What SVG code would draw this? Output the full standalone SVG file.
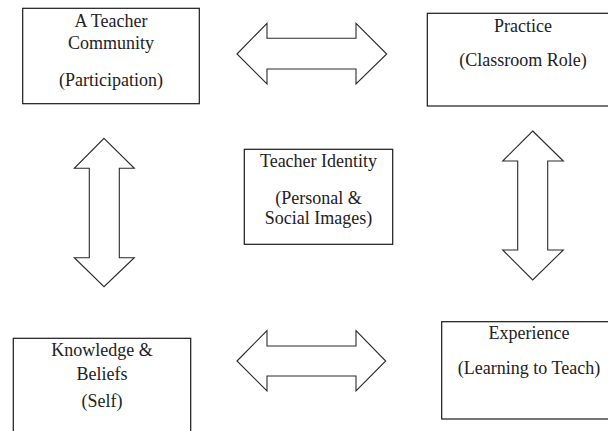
<svg xmlns="http://www.w3.org/2000/svg" width="608" height="431" viewBox="0 0 608 431">
<style>
.box{fill:#fff;stroke:#1a1a1a;stroke-width:1.2}
.arr{fill:#fff;stroke:#2a2a2a;stroke-width:1.1;stroke-linejoin:miter}
text{font-family:"Liberation Serif","Times New Roman",serif;fill:#222;text-anchor:middle;font-size:18px}
</style>
<rect width="608" height="431" fill="#fff"/>
<g id="community">
<rect class="box" x="22.7" y="8.3" width="176.6" height="95.4"/>
<text x="111" y="27.3">A Teacher</text>
<text x="111" y="49.3">Community</text>
<text x="111" y="86">(Participation)</text>
</g>
<g id="practice">
<rect class="box" x="427.3" y="13.3" width="190" height="92.7"/>
<text x="523" y="31.7">Practice</text>
<text x="523" y="65.7">(Classroom Role)</text>
</g>
<g id="identity">
<rect class="box" x="244.3" y="149.3" width="148.4" height="95"/>
<text x="318.5" y="167.3" font-size="17.5">Teacher Identity</text>
<text x="318.5" y="204" font-size="17.5">(Personal &amp;</text>
<text x="318.5" y="224.3" font-size="17.5">Social Images)</text>
</g>
<g id="knowledge">
<rect class="box" x="13.3" y="338.3" width="177.4" height="100"/>
<text x="102" y="356">Knowledge &amp;</text>
<text x="102" y="380">Beliefs</text>
<text x="102" y="407.3">(Self)</text>
</g>
<g id="experience">
<rect class="box" x="441.7" y="321.7" width="180" height="97.3"/>
<text x="529" y="339">Experience</text>
<text x="529" y="374">(Learning to Teach)</text>
</g>
<g id="connectors">
<polygon class="arr" points="237,54 267,23.3 267,38.3 356,38.3 356,23.3 386.7,54 356,84 356,69 267,69 267,84"/>
<polygon class="arr" points="237,361 267,330.7 267,346 356,346 356,330.7 385.7,361 356,391 356,376 267,376 267,391"/>
<polygon class="arr" points="104,138.3 134.3,168.3 119.3,168.3 119.3,257.7 134.3,257.7 104,286.7 74.3,257.7 89.3,257.7 89.3,168.3 74.3,168.3"/>
<polygon class="arr" points="532.7,131 563.3,161 547.7,161 547.7,250 563.3,250 532.7,280 502.7,250 517.7,250 517.7,161 502.7,161"/>
</g>
</svg>
